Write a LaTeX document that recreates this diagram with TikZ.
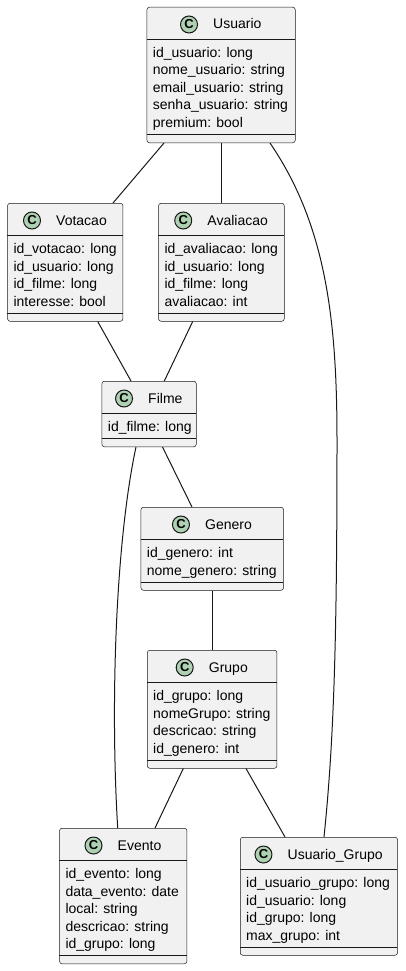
\documentclass[tikz,border=0pt]{standalone}
\usepackage{fontspec}
\setmainfont{Liberation Sans}
\usetikzlibrary{calc}
\definecolor{boxfill}{HTML}{F1F1F1}
\definecolor{circfill}{HTML}{ADD1B2}
\definecolor{ink}{HTML}{181818}
\tikzset{
  classbox/.style={rectangle, draw=ink, line width=0.5pt, fill=boxfill, rounded corners=2.5pt, inner sep=0pt, anchor=north west},
  divider/.style={draw=ink, line width=0.5pt},
  classicon/.style={circle, draw=ink, line width=1pt, fill=circfill, minimum size=17pt, inner sep=0pt, font=\fontsize{13}{13}\selectfont\bfseries},
  classtitle/.style={inner sep=0pt, anchor=base, font=\fontsize{14}{14}\selectfont},
  attr/.style={inner sep=0pt, anchor=base west, font=\fontsize{14}{14}\selectfont},
  assoc/.style={draw=ink, line width=1pt},
}
% name, x, y, width, lines, title, attributes
\newcommand\umlclass[7]{%
  \pgfmathsetmacro\clh{48+17.5*#5}%
  \node[classbox, minimum width=#4pt, minimum height=\clh pt] (#1) at (#2,#3) {};
  \draw[divider] (#2,#3+32) -- (#2+#4,#3+32);
  \draw[divider] (#2,#3+40+17.5*#5) -- (#2+#4,#3+40+17.5*#5);
  \node[classtitle] (#1-title) at (#2+#4/2+16.5,#3+22) {#6};
  \node[classicon] (#1-icon) at ($(#1-title.base west)+(-24,-4.5)$) {C};
  \foreach \a [count=\i] in {#7} {
    \node[attr] (#1-a\i) at (#2+6,#3+33+17.5*\i) {\a};
  }
}
\begin{document}
\begin{tikzpicture}[x=1pt,y=-1pt]
\useasboundingbox (0,0) rectangle (405,971);
\umlclass{usuario}{146.7}{7}{148.3}{5}{Usuario}{id\_usuario: long,nome\_usuario: string,email\_usuario: string,senha\_usuario: string,premium: bool}
\umlclass{votacao}{7.3}{203}{115.4}{4}{Votacao}{id\_votacao: long,id\_usuario: long,id\_filme: long,interesse: bool}
\umlclass{avaliacao}{158.3}{203}{125.7}{4}{Avaliacao}{id\_avaliacao: long,id\_usuario: long,id\_filme: long,avaliacao: int}
\umlclass{filme}{101.7}{381}{94.3}{1}{Filme}{id\_filme: long}
\umlclass{genero}{140.7}{507}{142.6}{2}{Genero}{id\_genero: int,nome\_genero: string}
\umlclass{grupo}{147}{650}{129.7}{4}{Grupo}{id\_grupo: long,nomeGrupo: string,descricao: string,id\_genero: int}
\umlclass{evento}{59.3}{828}{127.4}{5}{Evento}{id\_evento: long,data\_evento: date,local: string,descricao: string,id\_grupo: long}
\umlclass{ug}{240}{837}{157.3}{4}{Usuario\_Grupo}{id\_usuario\_grupo: long,id\_usuario: long,id\_grupo: long,max\_grupo: int}

\draw[assoc] ([xshift=17.3pt]usuario.south west) -- ([xshift=105.7pt]votacao.north west);
\draw[assoc] ([xshift=74.3pt]usuario.south west) -- ([xshift=62.7pt]avaliacao.north west);
\draw[assoc] ([xshift=123.3pt]usuario.south west) .. controls (326,225) and (337,320) .. (337,440)
  .. controls (337,640) and (334,740) .. ([xshift=84pt]ug.north west);
\draw[assoc] ([xshift=90.4pt]votacao.south west) -- ([xshift=29.3pt]filme.north west);
\draw[assoc] ([xshift=34.4pt]avaliacao.south west) -- ([xshift=62.6pt]filme.north west);
\draw[assoc] ([xshift=60.8pt]filme.south west) -- ([xshift=51.3pt]genero.north west);
\draw[assoc] ([xshift=34.3pt]filme.south west) .. controls (116,540) and (110,700) .. ([xshift=58.4pt]evento.north west);
\draw[assoc] ([xshift=71.3pt]genero.south west) -- ([xshift=65pt]grupo.north west);
\draw[assoc] ([xshift=36.3pt]grupo.south west) -- ([xshift=95.7pt]evento.north west);
\draw[assoc] ([xshift=99pt]grupo.south west) -- ([xshift=45pt]ug.north west);
\end{tikzpicture}
\end{document}
